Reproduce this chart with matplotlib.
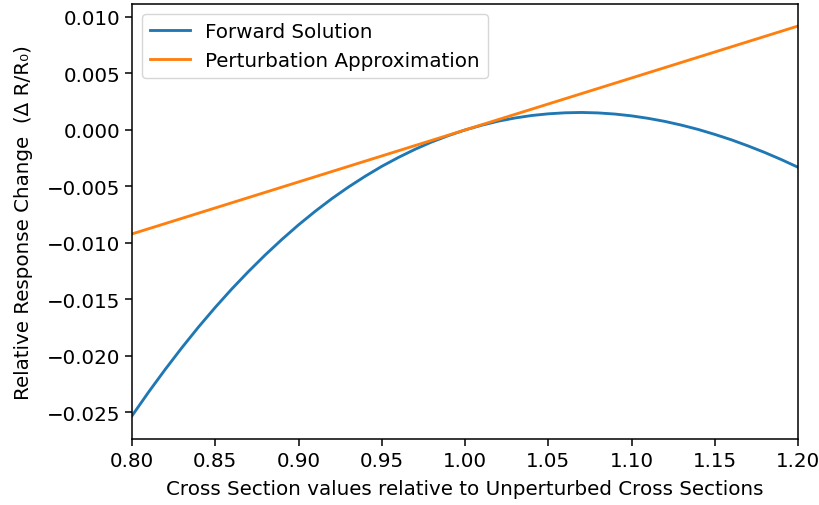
import matplotlib
matplotlib.use("Agg")
import matplotlib.pyplot as plt

# Relative cross-section scaling factors
scale = [0.80, 0.81, 0.82, 0.83, 0.84, 0.85, 0.86, 0.87, 0.88, 0.89, 0.90,
         0.91, 0.92, 0.93, 0.94, 0.95, 0.96, 0.97, 0.98, 0.99, 1.00,
         1.01, 1.02, 1.03, 1.04, 1.05, 1.06, 1.07, 1.08, 1.09, 1.10,
         1.11, 1.12, 1.13, 1.14, 1.15, 1.16, 1.17, 1.18, 1.19, 1.20]

# Relative response change from the full forward calculation
forward = [-0.0253, -0.02319, -0.02118, -0.01926, -0.01743, -0.01570,
           -0.01406, -0.01252, -0.01106, -0.00969, -0.0084,
           -0.00720, -0.00608, -0.00505, -0.00410, -0.00322,
           -0.00243, -0.00171, -0.00106, -0.00050, 0.0,
           0.00042, 0.00078, 0.00106, 0.00128, 0.00143,
           0.00152, 0.00155, 0.00151, 0.00141, 0.00125,
           0.00103, 0.00076, 0.00043, 0.00005, -0.00039,
           -0.00087, -0.00141, -0.00199, -0.00262, -0.0033]

# First-order perturbation estimate (straight line through 1.0)
pert_scale = [0.80, 1.20]
perturbation = [-0.0092, 0.0092]

FS = 14.3
plt.rcParams.update({
    "font.size": FS,
    "axes.linewidth": 1.1,
    "xtick.major.width": 1.1,
    "ytick.major.width": 1.1,
    "xtick.major.size": 4.8,
    "ytick.major.size": 4.8,
})

fig = plt.figure(figsize=(8.19, 5.06), dpi=100)
ax = fig.add_axes([132 / 819, 1 - 440 / 506, (798 - 132) / 819, (440 - 5) / 506])

ax.plot(scale, forward, color="#1f77b4", lw=2.05, label="Forward Solution")
ax.plot(pert_scale, perturbation, color="#ff7f0e", lw=2.05,
        label="Perturbation Approximation")

ax.set_xlim(0.80, 1.20)
ax.set_ylim(-0.02735, 0.01115)
ax.set_xticks([0.80, 0.85, 0.90, 0.95, 1.00, 1.05, 1.10, 1.15, 1.20])
ax.set_yticks([-0.025, -0.020, -0.015, -0.010, -0.005, 0.0, 0.005, 0.010])

ax.set_xlabel("Cross Section values relative to Unperturbed Cross Sections",
              labelpad=7)
ax.set_ylabel("Relative Response Change  (Δ R/R₀)", labelpad=10)
ax.legend(loc="upper left")

fig.savefig("out.png", dpi=100)
